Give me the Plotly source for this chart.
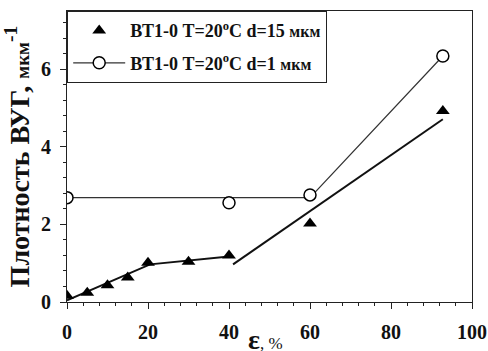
import plotly.graph_objects as go

# Measured points, d = 15 мкм (filled triangles)
strain_15 = [0, 5, 10, 15, 20, 30, 40, 60, 92.8]
density_15 = [0.16, 0.24, 0.43, 0.63, 1.01, 1.04, 1.2, 2.02, 4.92]

# Measured points, d = 1 мкм (open circles)
strain_1 = [0, 40, 60, 92.8]
density_1 = [2.69, 2.56, 2.76, 6.34]

# Trend lines for d = 15 мкм: two stages
trend15a_x = [0, 20.5, 40]
trend15a_y = [0.04, 0.97, 1.17]
trend15b_x = [41, 92.8]
trend15b_y = [0.97, 4.71]

# Trend line for d = 1 мкм
trend1_x = [0, 60, 92.8]
trend1_y = [2.69, 2.69, 6.34]

label_15 = "ВТ1-0 Т=20<sup>o</sup>C d=15 <span style='font-size:16px'>мкм</span>"
label_1 = "ВТ1-0 Т=20<sup>o</sup>C d=1 <span style='font-size:16px'>мкм</span>"

FONT = "Liberation Serif"

fig = go.Figure()

fig.add_trace(go.Scatter(x=trend15a_x, y=trend15a_y, mode="lines",
                         line=dict(color="#111", width=2), showlegend=False))
fig.add_trace(go.Scatter(x=trend15b_x, y=trend15b_y, mode="lines",
                         line=dict(color="#111", width=2), showlegend=False))
fig.add_trace(go.Scatter(x=trend1_x, y=trend1_y, mode="lines",
                         line=dict(color="#333", width=1.2), showlegend=False))

fig.add_trace(go.Scatter(x=strain_15, y=density_15, mode="markers", name=label_15,
                         marker=dict(symbol="triangle-up", size=12, color="black"),
                         legendgroup="a"))
fig.add_trace(go.Scatter(x=strain_1, y=density_1, mode="markers", showlegend=False,
                         marker=dict(symbol="circle", size=12, color="white",
                                     line=dict(color="black", width=1.5))))
# legend entry for the open-circle series (line + marker)
fig.add_trace(go.Scatter(x=[None], y=[None], mode="lines+markers", name=label_1,
                         line=dict(color="#333", width=1.2),
                         marker=dict(symbol="circle", size=12, color="white",
                                     line=dict(color="black", width=1.5)),
                         legendgroup="b"))

axis_common = dict(
    showline=True, linecolor="#222", linewidth=1.2, mirror=True,
    showgrid=False, zeroline=False, automargin=False,
    ticks="outside", ticklen=6, tickwidth=1.2, tickcolor="#222",
    tickfont=dict(family=FONT, size=20, color="#111", weight="bold"),
)

fig.update_xaxes(
    range=[0, 100], tickvals=[0, 20, 40, 60, 80, 100],
    minor=dict(ticks="outside", ticklen=3, tickwidth=1, tickcolor="#222", dtick=4),
    ticklabelstandoff=6,
    **axis_common,
)
fig.update_yaxes(
    range=[0, 7.5], tickvals=[0, 2, 4, 6],
    minor=dict(ticks="outside", ticklen=3, tickwidth=1, tickcolor="#222", dtick=0.4),
    ticklabelstandoff=5,
    title=dict(text="<b>Плотность ВУГ, <span style='font-size:19px'>мкм</span><sup>-1</sup></b>",
               font=dict(family=FONT, size=28, color="#111"), standoff=4),
    **axis_common,
)

# x-axis title, sitting low against the bottom edge
fig.add_annotation(
    text="<b>ε</b><span style='font-size:17px'>, %</span>",
    xref="paper", yref="paper", x=0.49, y=-0.128, xanchor="center", yanchor="middle",
    showarrow=False, font=dict(family=FONT, size=28, color="#111"),
)

fig.update_layout(
    width=488, height=351,
    margin=dict(l=67, r=16, t=11, b=49),
    paper_bgcolor="white", plot_bgcolor="white",
    legend=dict(x=0, y=1, xanchor="left", yanchor="top",
                bordercolor="#222", borderwidth=1.2, bgcolor="white",
                font=dict(family=FONT, size=18, color="#111", weight="bold"),
                traceorder="grouped", tracegroupgap=6, itemwidth=52),
)

fig.write_html("out.html")
